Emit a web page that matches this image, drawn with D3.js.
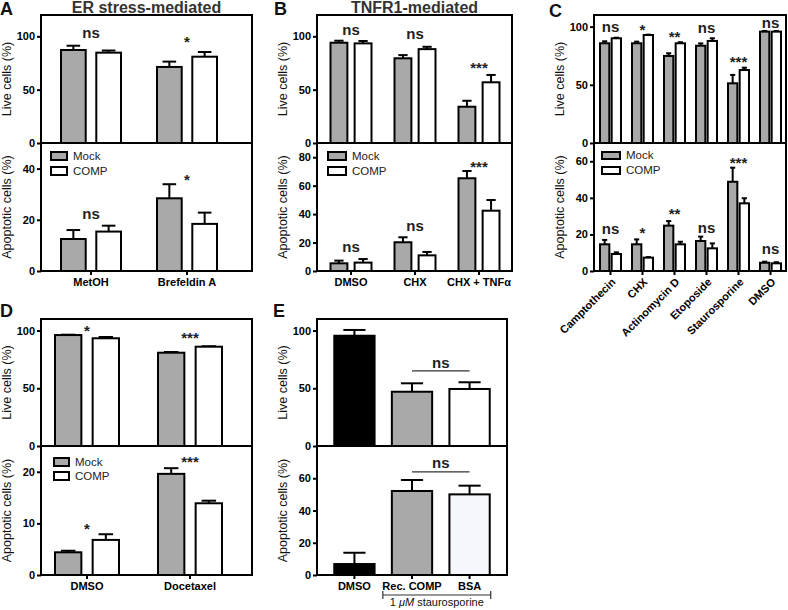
<!DOCTYPE html>
<html><head><meta charset="utf-8">
<script src="https://cdn.jsdelivr.net/npm/d3@7"></script>
<style>
body{margin:0;background:#fff}
text{font-family:"Liberation Sans",Arial,Helvetica,sans-serif}
</style>
</head><body>
<svg id="chart" width="788" height="610"></svg>
<script>
// ---------------- DATA ----------------
const seriesNames = ["Mock", "COMP"];
const seriesFills = ["#a9a9a9", "#ffffff"];

// Panel A
const A_cats = ["MetOH", "Brefeldin A"];
const A_liveMock = [87.2, 71.3], A_liveMockErr = [4, 5];
const A_liveComp = [84.7, 80.9], A_liveCompErr = [2, 4.4];
const A_apoMock = [12.5, 28.4], A_apoMockErr = [3.5, 5.5];
const A_apoComp = [15.4, 18.4], A_apoCompErr = [2.3, 4.4];
const A_liveSig = ["ns", "*"], A_liveSigY = [98.4, 90];
const A_apoSig = ["ns", "*"], A_apoSigY = [20.3, 33.6];
const A_liveTicks = [0, 50, 100], A_apoTicks = [0, 20, 40];

// Panel B
const B_cats = ["DMSO", "CHX", "CHX + TNFα"];
const B_liveMock = [94, 79.4, 34], B_liveMockErr = [1.9, 3, 5.6];
const B_liveComp = [93.4, 88, 56.9], B_liveCompErr = [2.2, 2.2, 6.9];
const B_apoMock = [5.4, 20.2, 65.2], B_apoMockErr = [1.9, 3.5, 5.1];
const B_apoComp = [5.9, 11, 42.4], B_apoCompErr = [2.5, 2.4, 7.5];
const B_liveSig = ["ns", "ns", "***"], B_liveSigY = [101.2, 97.5, 65.6];
const B_apoSig = ["ns", "ns", "***"], B_apoSigY = [13.4, 28.1, 69.6];
const B_liveTicks = [0, 50, 100], B_apoTicks = [0, 20, 40, 60, 80];

// Panel C
const C_cats = ["Camptothecin", "CHX", "Actinomycin D", "Etoposide", "Staurosporine", "DMSO"];
const C_liveMock = [85.7, 85.7, 74.8, 83.6, 51.3, 95.7], C_liveMockErr = [1.7, 1.4, 2.3, 2, 7.2, 0.6];
const C_liveComp = [90, 92.8, 85.7, 87.7, 62.7, 95.7], C_liveCompErr = [0.5, 0.3, 0.9, 2.3, 2, 0.5];
const C_apoMock = [14.6, 14.6, 24.8, 16.4, 48.8, 4.5], C_apoMockErr = [2.4, 2.7, 2.5, 2.4, 7.7, 0.6];
const C_apoComp = [9.3, 7.3, 14.6, 12.4, 37, 4.2], C_apoCompErr = [0.9, 0.3, 1.4, 2.7, 2.8, 0.6];
const C_liveSig = ["ns", "*", "**", "ns", "***", "ns"], C_liveSigY = [95.4, 92.8, 86.8, 94.5, 65.3, 98.8];
const C_apoSig = ["ns", "*", "**", "ns", "***", "ns"], C_apoSigY = [20.2, 18, 28.4, 20.8, 56.3, 9.3];
const C_liveTicks = [0, 50, 100], C_apoTicks = [0, 20, 40, 60];

// Panel D
const D_cats = ["DMSO", "Docetaxel"];
const D_liveMock = [96.1, 80.8], D_liveMockErr = [0.3, 0.6];
const D_liveComp = [93.3, 86], D_liveCompErr = [1.1, 0.4];
const D_apoMock = [4.4, 19.6], D_apoMockErr = [0.3, 1.1];
const D_apoComp = [6.8, 13.9], D_apoCompErr = [1.1, 0.5];
const D_liveSig = ["*", "***"], D_liveSigY = [95.3, 89.2];
const D_apoSig = ["*", "***"], D_apoSigY = [7.9, 20.9];
const D_liveTicks = [0, 50, 100], D_apoTicks = [0, 10, 20];

// Panel E
const E_cats = ["DMSO", "Rec. COMP", "BSA"];
const E_live = [95.5, 47, 49.4], E_liveErr = [5, 7.3, 5.8];
const E_apo = [6.8, 52.1, 50], E_apoErr = [7, 6.8, 5.4];
const E_liveFills = ["#000000", "#a9a9a9", "#ffffff"];
const E_apoFills = ["#000000", "#a9a9a9", "#f4f7fb"];
const E_liveSig = "ns", E_liveSigY = 67.6, E_liveLineY = 65;
const E_apoSig = "ns", E_apoSigY = 66.4, E_apoLineY = 64;
const E_liveTicks = [0, 50, 100], E_apoTicks = [0, 20, 40, 60];
const E_bracketLabel = ["1 ", "μM", " staurosporine"];

// ---------------- DRAWING ----------------
const svg = d3.select("#chart");
const FONT = '"Liberation Sans",Arial,Helvetica,sans-serif';

function leftAxis(g, scale, ticks, x0) {
  g.append("g").attr("transform", `translate(${x0},0)`)
    .call(d3.axisLeft(scale).tickValues(ticks).tickSize(4).tickPadding(2).tickSizeOuter(0))
    .call(a => a.select(".domain").remove())
    .call(a => a.selectAll("line").attr("stroke", "#000").attr("stroke-width", 2))
    .call(a => a.selectAll("text").attr("font-size", 11).attr("font-weight", "bold").attr("fill", "#000").style("font-family", FONT));
}

function frame(g, f) {
  g.append("rect").attr("x", f.x0).attr("y", f.yT).attr("width", f.x1 - f.x0).attr("height", f.yB - f.yT)
    .attr("fill", "none").attr("stroke", "#000").attr("stroke-width", 2);
  g.append("line").attr("x1", f.x0).attr("x2", f.x1).attr("y1", f.yM).attr("y2", f.yM)
    .attr("stroke", "#000").attr("stroke-width", 2);
}

function bar(g, bx, bw, yS, v, e, fill) {
  const cx = bx + bw / 2, cw = bw * 0.55;
  g.append("line").attr("x1", cx).attr("x2", cx).attr("y1", yS(v)).attr("y2", yS(v + e))
    .attr("stroke", "#000").attr("stroke-width", 2);
  g.append("line").attr("x1", cx - cw / 2).attr("x2", cx + cw / 2).attr("y1", yS(v + e)).attr("y2", yS(v + e))
    .attr("stroke", "#000").attr("stroke-width", 2);
  g.append("rect").attr("x", bx).attr("y", yS(v)).attr("width", bw).attr("height", yS(0) - yS(v))
    .attr("fill", fill).attr("stroke", "#000").attr("stroke-width", 2);
}

function yTitles(g, f, off) {
  g.append("text").attr("transform", `translate(${f.x0 - off},${(f.yT + f.yM) / 2}) rotate(-90)`)
    .attr("text-anchor", "middle").attr("font-size", 12.5).attr("fill", "#111").text("Live cells (%)");
  g.append("text").attr("transform", `translate(${f.x0 - off},${(f.yM + f.yB) / 2}) rotate(-90)`)
    .attr("text-anchor", "middle").attr("font-size", 12.5).attr("fill", "#111").text("Apoptotic cells (%)");
}

function sig(g, x, y, t) {
  g.append("text").attr("x", x).attr("y", y).attr("text-anchor", "middle")
    .attr("font-size", 15).attr("font-weight", "bold").attr("fill", "#222").text(t);
}

function letter(g, x, y, t) {
  g.append("text").attr("x", x).attr("y", y).attr("font-size", 18).attr("font-weight", "bold").attr("fill", "#111").text(t);
}

function panel(cfg) {
  const g = svg.append("g");
  const f = cfg.frame;
  const yTop = d3.scaleLinear().domain([0, cfg.topMax]).range([f.yM, f.yT]);
  const yBot = d3.scaleLinear().domain([0, cfg.botMax]).range([f.yB, f.yM]);
  const x = d3.scalePoint().domain(cfg.cats).range(cfg.centers);
  const inner = d3.scaleBand().domain(seriesNames).range([-cfg.groupW / 2, cfg.groupW / 2]).paddingInner(cfg.pad);
  const bw = inner.bandwidth();

  const liveVals = [[cfg.liveMock, cfg.liveMockErr], [cfg.liveComp, cfg.liveCompErr]];
  const apoVals = [[cfg.apoMock, cfg.apoMockErr], [cfg.apoComp, cfg.apoCompErr]];
  seriesNames.forEach((s, si) => {
    cfg.cats.forEach((c, i) => {
      bar(g, x(c) + inner(s), bw, yTop, liveVals[si][0][i], liveVals[si][1][i], seriesFills[si]);
      bar(g, x(c) + inner(s), bw, yBot, apoVals[si][0][i], apoVals[si][1][i], seriesFills[si]);
    });
  });
  frame(g, f);
  leftAxis(g, yTop, cfg.liveTicks, f.x0);
  leftAxis(g, yBot, cfg.apoTicks, f.x0);
  yTitles(g, f, 30);

  // x ticks and labels
  cfg.cats.forEach(c => {
    g.append("line").attr("x1", x(c)).attr("x2", x(c)).attr("y1", f.yB).attr("y2", f.yB + 4)
      .attr("stroke", "#000").attr("stroke-width", 2);
    if (cfg.rotate) {
      g.append("text").attr("transform", `translate(${x(c) + 3},${f.yB + 9}) rotate(-45)`)
        .attr("text-anchor", "end").attr("dy", "0.35em").attr("font-size", 11).attr("font-weight", "bold").text(c);
    } else {
      g.append("text").attr("x", x(c)).attr("y", f.yB + 15).attr("text-anchor", "middle")
        .attr("font-size", 11).attr("font-weight", "bold").text(c);
    }
  });

  cfg.cats.forEach((c, i) => {
    sig(g, x(c), yTop(cfg.liveSigY[i]), cfg.liveSig[i]);
    sig(g, x(c), yBot(cfg.apoSigY[i]), cfg.apoSig[i]);
  });

  // legend
  const L = cfg.legend;
  seriesNames.forEach((s, si) => {
    const ly = f.yM + L.dy + si * L.gap;
    g.append("rect").attr("x", f.x0 + L.dx).attr("y", ly).attr("width", L.w).attr("height", L.h)
      .attr("fill", seriesFills[si]).attr("stroke", "#000").attr("stroke-width", 2);
    g.append("text").attr("x", f.x0 + L.dx + L.w + 6).attr("y", ly + L.h).attr("font-size", 11.5)
      .attr("fill", "#222").text(s);
  });

  if (cfg.title) {
    g.append("text").attr("x", (f.x0 + f.x1) / 2).attr("y", f.yT - 2).attr("text-anchor", "middle")
      .attr("font-size", 16).attr("font-weight", "bold").attr("fill", "#333").text(cfg.title);
  }
  letter(g, cfg.letter[0], cfg.letter[1], cfg.letter[2]);
}

panel({
  frame: {x0: 41, x1: 252, yT: 15, yM: 143, yB: 271},
  cats: A_cats, centers: [91, 187], groupW: 60, pad: 0.3,
  topMax: 120, botMax: 50,
  liveMock: A_liveMock, liveMockErr: A_liveMockErr, liveComp: A_liveComp, liveCompErr: A_liveCompErr,
  apoMock: A_apoMock, apoMockErr: A_apoMockErr, apoComp: A_apoComp, apoCompErr: A_apoCompErr,
  liveSig: A_liveSig, liveSigY: A_liveSigY, apoSig: A_apoSig, apoSigY: A_apoSigY,
  liveTicks: A_liveTicks, apoTicks: A_apoTicks,
  legend: {dx: 10, dy: 9, w: 16, h: 8, gap: 15},
  title: "ER stress-mediated", letter: [0, 15, "A"]
});

panel({
  frame: {x0: 317, x1: 512, yT: 15, yM: 143, yB: 271},
  cats: B_cats, centers: [351, 479], groupW: 41, pad: 0.3,
  topMax: 120, botMax: 90,
  liveMock: B_liveMock, liveMockErr: B_liveMockErr, liveComp: B_liveComp, liveCompErr: B_liveCompErr,
  apoMock: B_apoMock, apoMockErr: B_apoMockErr, apoComp: B_apoComp, apoCompErr: B_apoCompErr,
  liveSig: B_liveSig, liveSigY: B_liveSigY, apoSig: B_apoSig, apoSigY: B_apoSigY,
  liveTicks: B_liveTicks, apoTicks: B_apoTicks,
  legend: {dx: 11, dy: 9, w: 18, h: 8, gap: 15},
  title: "TNFR1-mediated", letter: [274, 15, "B"]
});

panel({
  frame: {x0: 594, x1: 786, yT: 15, yM: 143, yB: 271},
  cats: C_cats, centers: [610.5, 770.5], groupW: 21, pad: 0.2,
  topMax: 110, botMax: 70,
  liveMock: C_liveMock, liveMockErr: C_liveMockErr, liveComp: C_liveComp, liveCompErr: C_liveCompErr,
  apoMock: C_apoMock, apoMockErr: C_apoMockErr, apoComp: C_apoComp, apoCompErr: C_apoCompErr,
  liveSig: C_liveSig, liveSigY: C_liveSigY, apoSig: C_apoSig, apoSigY: C_apoSigY,
  liveTicks: C_liveTicks, apoTicks: C_apoTicks,
  legend: {dx: 8, dy: 9, w: 18, h: 7, gap: 15},
  rotate: true, letter: [549, 17, "C"]
});

panel({
  frame: {x0: 41, x1: 252, yT: 319, yM: 446, yB: 575},
  cats: D_cats, centers: [87, 190], groupW: 64, pad: 0.3,
  topMax: 110, botMax: 25,
  liveMock: D_liveMock, liveMockErr: D_liveMockErr, liveComp: D_liveComp, liveCompErr: D_liveCompErr,
  apoMock: D_apoMock, apoMockErr: D_apoMockErr, apoComp: D_apoComp, apoCompErr: D_apoCompErr,
  liveSig: D_liveSig, liveSigY: D_liveSigY, apoSig: D_apoSig, apoSigY: D_apoSigY,
  liveTicks: D_liveTicks, apoTicks: D_apoTicks,
  legend: {dx: 13, dy: 12, w: 15, h: 8, gap: 14},
  letter: [0, 317, "D"]
});

// Panel E
(function () {
  const g = svg.append("g");
  const f = {x0: 317, x1: 507, yT: 319, yM: 446, yB: 575};
  const yTop = d3.scaleLinear().domain([0, 110]).range([f.yM, f.yT]);
  const yBot = d3.scaleLinear().domain([0, 80]).range([f.yB, f.yM]);
  const x = d3.scaleBand().domain(E_cats).range([f.x0, f.x1]).paddingInner(0.3).paddingOuter(0.3);
  const bw = x.bandwidth();
  E_cats.forEach((c, i) => {
    bar(g, x(c), bw, yTop, E_live[i], E_liveErr[i], E_liveFills[i]);
    bar(g, x(c), bw, yBot, E_apo[i], E_apoErr[i], E_apoFills[i]);
  });
  frame(g, f);
  leftAxis(g, yTop, E_liveTicks, f.x0);
  leftAxis(g, yBot, E_apoTicks, f.x0);
  yTitles(g, f, 30);
  E_cats.forEach(c => {
    const cx = x(c) + bw / 2;
    g.append("line").attr("x1", cx).attr("x2", cx).attr("y1", f.yB).attr("y2", f.yB + 4)
      .attr("stroke", "#000").attr("stroke-width", 2);
    g.append("text").attr("x", cx).attr("y", f.yB + 15).attr("text-anchor", "middle")
      .attr("font-size", 11).attr("font-weight", "bold").text(c);
  });
  // ns comparisons between Rec. COMP and BSA
  const c1 = x(E_cats[1]) + bw / 2, c2 = x(E_cats[2]) + bw / 2;
  [[yTop, E_liveLineY, E_liveSigY, E_liveSig], [yBot, E_apoLineY, E_apoSigY, E_apoSig]].forEach(([yS, ly, sy, t]) => {
    g.append("line").attr("x1", c1).attr("x2", c2).attr("y1", yS(ly)).attr("y2", yS(ly))
      .attr("stroke", "#333").attr("stroke-width", 1.2);
    sig(g, (c1 + c2) / 2, yS(sy), t);
  });
  // bracket
  const bx1 = x(E_cats[1]) - 9, bx2 = x(E_cats[2]) + bw + 1, by = f.yB + 20;
  g.append("path").attr("d", `M${bx1},${by - 4}V${by + 4}M${bx1},${by}H${bx2}M${bx2},${by - 4}V${by + 4}`)
    .attr("fill", "none").attr("stroke", "#333").attr("stroke-width", 1.2);
  const t = g.append("text").attr("x", (bx1 + bx2) / 2).attr("y", by + 11).attr("text-anchor", "middle")
    .attr("font-size", 11).attr("fill", "#111");
  t.append("tspan").text(E_bracketLabel[0]);
  t.append("tspan").attr("font-style", "italic").text(E_bracketLabel[1]);
  t.append("tspan").text(E_bracketLabel[2]);
  letter(g, 273, 317, "E");
})();
</script>
</body></html>
